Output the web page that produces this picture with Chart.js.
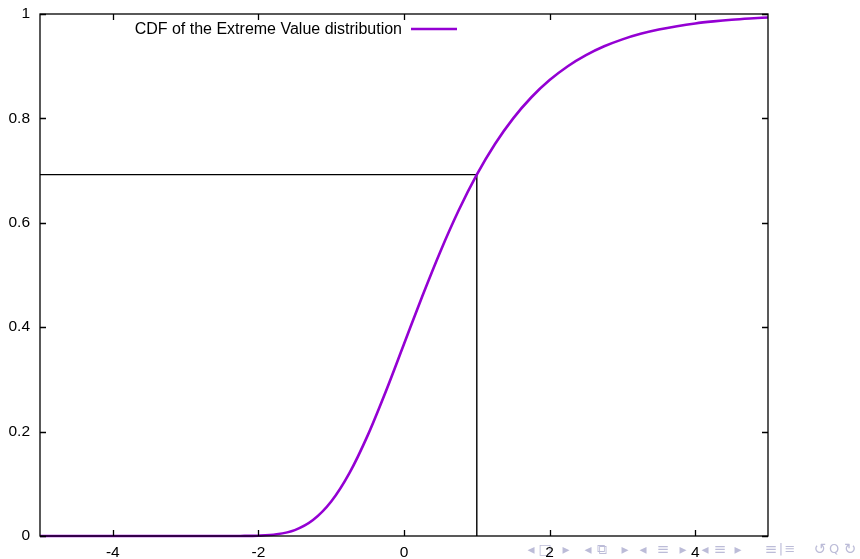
<!DOCTYPE html>
<html>
<head>
<meta charset="utf-8">
<script src="https://cdn.jsdelivr.net/npm/chart.js@4/dist/chart.umd.min.js"></script>
<style>
html,body{margin:0;padding:0;background:#fff;}
#wrap{width:860px;height:559px;}
</style>
</head>
<body>
<div id="wrap"><canvas id="cdfChart" width="860" height="559"></canvas></div>
<script>
// DATA

const xValues = [-5,-4,-3,-2.5,-2.25,-2,-1.75,-1.5,-1.25,-1,-0.75,-0.5,-0.25,0,
0.25,0.5,0.75,1,1.25,1.5,1.75,2,2.25,2.5,2.75,3,3.25,3.5,3.75,4,4.25,4.5,4.75,5];

const cdfValues = [0,0,0,0,0.0001,0.0006,0.0032,0.0113,0.0305,0.066,0.1204,0.1923,0.2769,0.3679,
0.4589,0.5452,0.6235,0.6922,0.7509,0.8,0.8405,0.8734,0.9,0.9212,0.9381,0.9514,0.962,0.9702,0.9767,0.9819,0.9858,0.989,0.9914,0.9933];

// marker lines at x = 1
const markX = [-5,1,1];
const markY = [0.6922,0.6922,0];

const xTicks = [-4,-2,0,2,4];
const yTicks = [0,0.2,0.4,0.6,0.8,1];
const yTickLabels = ["0","0.2","0.4","0.6","0.8","1"];

const legendLabel = "CDF of the Extreme Value distribution";

const FONT = "'Liberation Sans', Arial, Helvetica, sans-serif";
const PURPLE = "#9400d3";

// FRAME, INWARD TICKS, KEY, NAV SYMBOLS

const gnuplotLook = {
id:"gnuplotLook",
beforeDraw(chart){
let ctx = chart.ctx;
ctx.save();
ctx.fillStyle = "#bcbcd8";
ctx.textAlign = "center";
ctx.textBaseline = "middle";
const nav = [
[531,"◂",14],[545,"□",14],[566,"▸",14],
[588,"◂",14],[602,"⧉",14],[625,"▸",14],
[643,"◂",14],[663,"≡",15],[683,"▸",14],
[705,"◂",14],[720,"≡",15],[738,"▸",14],
[771,"≡",15],[781,"|",13],[790,"≡",13],
[820,"↺",15],[834,"Q",13],[850,"↻",15]
];
nav.forEach(n=>{
ctx.font = n[2] + "px 'DejaVu Sans', sans-serif";
ctx.fillText(n[1],n[0],550);
});
ctx.restore();
},
afterDraw(chart){
let ctx = chart.ctx;
let a = chart.chartArea;
let xs = chart.scales.x;
let ys = chart.scales.y;
ctx.save();
ctx.strokeStyle = "#000";
ctx.lineWidth = 1.3;
ctx.strokeRect(a.left,a.top,a.right-a.left,a.bottom-a.top);
ctx.beginPath();
xTicks.forEach(v=>{
let px = Math.round(xs.getPixelForValue(v))+0.5;
ctx.moveTo(px,a.bottom); ctx.lineTo(px,a.bottom-6);
ctx.moveTo(px,a.top); ctx.lineTo(px,a.top+6);
});
yTicks.forEach(v=>{
let py = Math.round(ys.getPixelForValue(v))+0.5;
ctx.moveTo(a.left,py); ctx.lineTo(a.left+6,py);
ctx.moveTo(a.right,py); ctx.lineTo(a.right-6,py);
});
ctx.stroke();

// key
ctx.fillStyle = "#000";
ctx.font = "16px " + FONT;
ctx.textAlign = "right";
ctx.textBaseline = "middle";
ctx.fillText(legendLabel,402,30);
ctx.strokeStyle = PURPLE;
ctx.lineWidth = 2.5;
ctx.beginPath();
ctx.moveTo(411,29); ctx.lineTo(457,29);
ctx.stroke();
ctx.restore();
}
};

new Chart(
document.getElementById("cdfChart"),
{
type:"scatter",
data:{
datasets:[{
label:legendLabel,
data:xValues.map((x,i)=>({x:x,y:cdfValues[i]})),
showLine:true,
borderColor:PURPLE,
borderWidth:2.6,
pointRadius:0,
cubicInterpolationMode:"monotone",
clip:4
},{
label:"marker",
data:markX.map((x,i)=>({x:x,y:markY[i]})),
showLine:true,
borderColor:"#000",
borderWidth:1.4,
pointRadius:0,
tension:0
}]
},
plugins:[gnuplotLook],
options:{
responsive:false,
animation:false,
layout:{padding:{top:14,right:92,left:0,bottom:0}},
plugins:{
legend:{display:false},
tooltip:{enabled:false}
},
scales:{
x:{
type:"linear",
min:-5,
max:5,
border:{display:false},
grid:{display:false,drawTicks:false},
afterBuildTicks:(s)=>{s.ticks = xTicks.map(v=>({value:v}));},
afterFit:(s)=>{s.height = 23; s.paddingLeft = 0; s.paddingRight = 0;},
ticks:{
color:"#000",
padding:7,
maxRotation:0,
font:{family:FONT,size:15.5},
callback:(v)=>String(v)
}
},
y:{
type:"linear",
min:0,
max:1,
border:{display:false},
grid:{display:false,drawTicks:false},
afterBuildTicks:(s)=>{s.ticks = yTicks.map(v=>({value:v}));},
afterFit:(s)=>{s.width = 40; s.paddingTop = 0; s.paddingBottom = 0;},
ticks:{
color:"#000",
padding:10,
font:{family:FONT,size:15.5},
callback:(v)=>yTickLabels[yTicks.indexOf(v)] ?? String(v)
}
}
}
}
}
);
</script>
</body>
</html>
